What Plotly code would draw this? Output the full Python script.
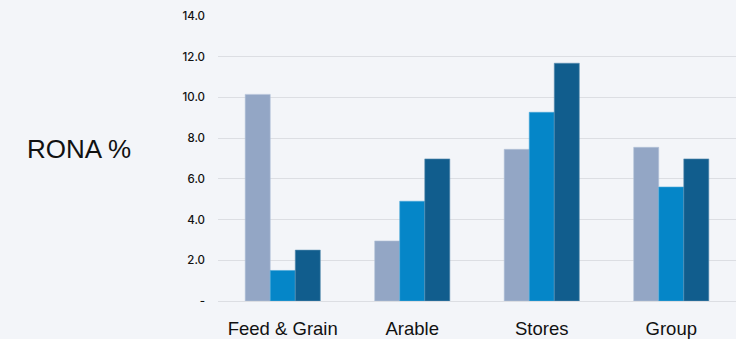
import plotly.graph_objects as go

categories = ["Feed & Grain", "Arable", "Stores", "Group"]
series_a = [10.15, 2.95, 7.45, 7.55]
series_b = [1.5, 4.9, 9.27, 5.6]
series_c = [2.5, 6.98, 11.68, 6.98]
tick_vals = [0, 2, 4, 6, 8, 10, 12, 14]
tick_text = ["-", "2.0", "4.0", "6.0", "8.0", "10.0", "12.0", "14.0"]

colors = ["#93a6c5", "#0586c8", "#115d8d"]
edge = ["#b4c2d8", "#4aa8d8", "#5a8fb2"]

fig = go.Figure()
for vals, c, e in zip([series_a, series_b, series_c], colors, edge):
    fig.add_trace(go.Bar(x=categories, y=vals, marker=dict(color=c, line=dict(color=e, width=0.6))))

fig.update_layout(
    width=736, height=339,
    margin=dict(l=218, r=0, t=16, b=38),
    paper_bgcolor="#f3f5f9", plot_bgcolor="#f3f5f9",
    barmode="group", bargap=0.42, bargroupgap=0,
    showlegend=False,
    font=dict(family="Liberation Sans, Arial, sans-serif", color="#1a1a1a"),
)
fig.update_xaxes(showgrid=False, showline=False, ticks="", ticklabelstandoff=14,
                 tickfont=dict(size=18.5, color="#111111", family="Liberation Sans, Arial, sans-serif"))
fig.update_yaxes(range=[0, 14], tickvals=tick_vals, ticktext=tick_text, showgrid=True,
                 gridcolor="#dcdee3", gridwidth=1.2, zeroline=True, zerolinecolor="#dcdee3", zerolinewidth=1.2,
                 tickfont=dict(size=11.5, color="#111111", family="Inter, Roboto, sans-serif", weight=500),
                 ticklabelstandoff=12, showline=False)
fig.add_annotation(text="RONA %", showarrow=False, xref="paper", yref="paper",
                   x=(79 - 218) / (736 - 218), y=(301 - 149) / 285, xanchor="center", yanchor="middle",
                   font=dict(size=26, color="#111111", family="Liberation Sans, Arial, sans-serif"))
fig.write_html("out.html")
